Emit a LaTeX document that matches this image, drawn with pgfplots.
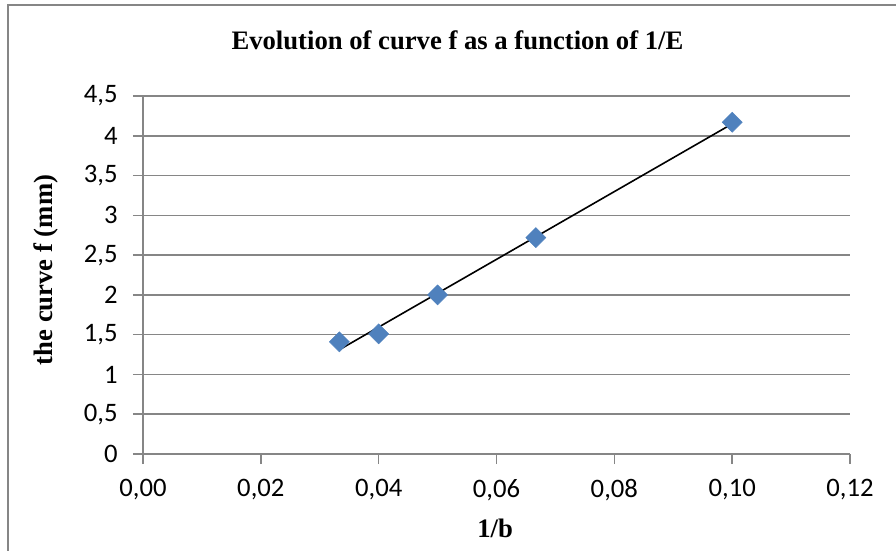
\documentclass[border=0pt]{standalone}
\usepackage{pgfplots}
\pgfplotsset{compat=1.18}
\usepackage{fontspec}
\setmainfont{Liberation Serif}
\newfontfamily\calibri{Carlito}
\definecolor{axgray}{HTML}{868686}
\definecolor{mblue}{HTML}{4F81BD}
\begin{document}
\begin{tikzpicture}
\useasboundingbox (0,0) rectangle (672pt,412.5pt);
\draw[axgray, line width=1.5pt] (6pt,-5pt) -- (6pt,408.75pt) -- (680pt,408.75pt);
\begin{axis}[
  at={(107.25pt,72pt)}, anchor=south west,
  scale only axis,
  width=530.25pt, height=268.5pt,
  xmin=0, xmax=0.12, ymin=0, ymax=4.5,
  xtick={0,0.02,...,0.12}, ytick={0,0.5,...,4.5},
  axis x line*=bottom, axis y line*=left,
  axis line style={axgray, line width=1.2pt, -},
  major tick style={axgray, line width=1.2pt},
  tick align=outside, major tick length=7.5pt,
  ymajorgrids, grid style={axgray, line width=1.2pt},
  /pgf/number format/assume math mode=true,
  xticklabel style={yshift=-8pt, /pgf/number format/.cd, use comma, fixed, fixed zerofill, precision=2},
  yticklabel style={xshift=-8pt, /pgf/number format/.cd, use comma, fixed, precision=1},
  ticklabel style={font=\calibri\fontsize{20}{22}\selectfont},
  title={Evolution of curve f as a function of 1/E},
  title style={font=\bfseries\fontsize{20}{22}\selectfont, at={(rel axis cs:0.4448,1.134)}, anchor=center},
  xlabel={1/b},
  xlabel style={font=\bfseries\fontsize{20}{22}\selectfont, at={(rel axis cs:0.498,-0.2067)}, anchor=center},
  ylabel={the curve f (mm)},
  ylabel style={font=\bfseries\fontsize{20}{22}\selectfont, at={(rel axis cs:-0.1372,0.514)}, anchor=center},
  clip=false,
]
\addplot[black, line width=1.2pt] coordinates {(0.033333,1.311) (0.1,4.15)};
\addplot[only marks, mark=square*, mark size=5.3pt, mark options={rotate=45, fill=mblue, draw=mblue}]
  coordinates {(0.033333,1.41) (0.04,1.51) (0.05,2.00) (0.066667,2.72) (0.1,4.17)};
\end{axis}
\end{tikzpicture}
\end{document}
